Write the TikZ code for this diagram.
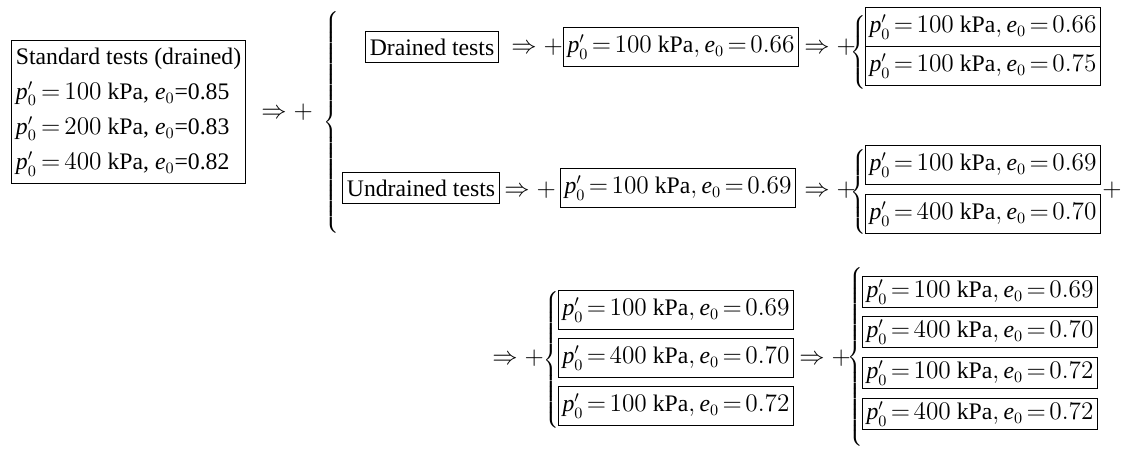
\documentclass[tikz,border=0pt]{standalone}
\usepackage{fontspec}
\setmainfont{Liberation Serif}

\tikzset{
	valbox/.style={draw, line width=0.6pt, inner xsep=2.5pt, inner ysep=4pt, font=\fontsize{13.5}{20}\selectfont},
	imply/.style={anchor=west, inner sep=0pt, font=\fontsize{13.5}{20}\selectfont},
	brc/.style={anchor=west, inner sep=0pt},
}

\newcommand{\pval}[2]{$\thickmuskip=2.5mu\textit{p}'_0 = #1\ \mathrm{kPa}, \textit{e}_0 = #2$}
\newcommand{\tallbrace}[1]{$\left\{\vrule height #1 depth #1 width 0pt\right.$}
\newcommand{\thento}{$\Rightarrow +$}

\begin{document}
\begin{tikzpicture}[x=0.02cm, y=-0.02cm]
	\useasboundingbox (0, 0) rectangle (1121, 452);

	%% standard tests
	\node[valbox, anchor=west, align=left] (std) at (11, 112) {Standard tests (drained)\\
		$\thickmuskip=3mu\textit{p}'_0 = 100$ kPa, $\textit{e}_0$=0.85\\
		$\thickmuskip=3mu\textit{p}'_0 = 200$ kPa, $\textit{e}_0$=0.83\\
		$\thickmuskip=3mu\textit{p}'_0 = 400$ kPa, $\textit{e}_0$=0.82};
	\node[imply] (a0) at (261, 112) {\thento};
	\node[brc] (b0) at (323, 124) {\tallbrace{2.2cm}};

	%% drained branch
	\node[valbox] (dr) at (432, 47) {Drained tests};
	\node[imply] (a1) at (511, 47) {\thento};
	\node[valbox] (d1) at (681, 47) {\pval{100}{0.66}};
	\node[imply] (a2) at (804, 47) {\thento};
	\node[brc] (b1) at (850, 54) {\tallbrace{0.7cm}};
	\node[valbox] (d2) at (983, 27) {\pval{100}{0.66}};
	\node[valbox] (d3) at (983, 66) {\pval{100}{0.75}};

	%% undrained branch
	\node[valbox] (ud) at (421, 188) {Undrained tests};
	\node[imply] (a3) at (504, 190) {\thento};
	\node[valbox] (u1) at (678, 188) {\pval{100}{0.69}};
	\node[imply] (a4) at (804, 190) {\thento};
	\node[brc] (b2) at (850, 192) {\tallbrace{0.76cm}};
	\node[valbox] (u2) at (983, 165) {\pval{100}{0.69}};
	\node[valbox] (u3) at (983, 214) {\pval{400}{0.70}};
	\node[imply, anchor=center] (p1) at (1112, 190) {$+$};

	%% continued undrained
	\node[imply] (a5) at (492, 358) {\thento};
	\node[brc] (b3) at (543, 360) {\tallbrace{1.27cm}};
	\node[valbox] (c1) at (676, 310) {\pval{100}{0.69}};
	\node[valbox] (c2) at (676, 358) {\pval{400}{0.70}};
	\node[valbox] (c3) at (676, 406) {\pval{100}{0.72}};
	\node[imply] (a6) at (799, 358) {\thento};
	\node[brc] (b4) at (847, 358) {\tallbrace{1.75cm}};
	\node[valbox, inner ysep=2pt] (e1) at (980, 292) {\pval{100}{0.69}};
	\node[valbox, inner ysep=2pt] (e2) at (980, 332) {\pval{400}{0.70}};
	\node[valbox, inner ysep=2pt] (e3) at (980, 373) {\pval{100}{0.72}};
	\node[valbox, inner ysep=2pt] (e4) at (980, 414) {\pval{400}{0.72}};
\end{tikzpicture}
\end{document}
